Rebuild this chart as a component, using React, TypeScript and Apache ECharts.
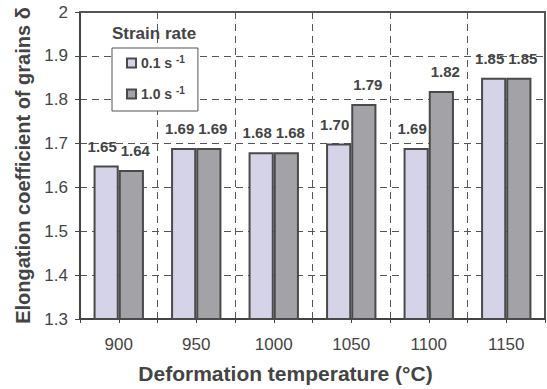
import React, { useEffect, useRef } from "react";
import * as echarts from "echarts";

const categories = ["900", "950", "1000", "1050", "1100", "1150"];
const rate01 = [1.65, 1.69, 1.68, 1.70, 1.69, 1.85];
const rate10 = [1.64, 1.69, 1.68, 1.79, 1.82, 1.85];
const seriesNames = ["0.1 s-1", "1.0 s-1"];
const halfTicks = ["", "", "", "", "", "", "", "", "", "", "", ""];

const FONT = "Liberation Sans, Arial, sans-serif";
const TXT = "#444";

export default function App() {
  const ref = useRef<HTMLDivElement>(null);
  useEffect(() => {
    const chart = echarts.init(ref.current!, null, { renderer: "svg" });
    const mkLabel = (dx: number) => ({
      show: true,
      position: "top" as const,
      distance: 12,
      offset: [dx, 0],
      fontFamily: FONT,
      fontWeight: "bold" as const,
      fontSize: 15,
      color: TXT,
      formatter: (p: any) => p.value.toFixed(2),
    });
    const dash = { color: "#555", width: 1, type: [7, 5] };
    chart.setOption({
      animation: false,
      textStyle: { fontFamily: FONT },
      grid: { left: 80, right: 2, top: 12, bottom: 69 },
      title: {
        text: "Strain rate",
        left: 112,
        top: 25,
        padding: 0,
        textStyle: { fontFamily: FONT, fontSize: 17, fontWeight: "bold", color: TXT },
      },
      legend: {
        orient: "vertical",
        left: 112,
        top: 48,
        padding: [6, 13, 8, 14],
        itemGap: 13,
        itemWidth: 9,
        itemHeight: 9,
        borderColor: "#555",
        borderWidth: 1,
        backgroundColor: "#fff",
        icon: "rect",
        data: seriesNames,
        formatter: (name: string) => {
          const base = name.replace("-1", "");
          return `{a|${base} }{sup|-1}`;
        },
        textStyle: {
          rich: {
            a: { fontFamily: FONT, fontSize: 14, fontWeight: "bold", color: TXT, lineHeight: 18 },
            sup: { fontFamily: FONT, fontSize: 10, fontWeight: "bold", color: TXT, verticalAlign: "top", lineHeight: 18, padding: [0, 0, 8, 0] },
          },
        },
      },
      xAxis: [
        {
          type: "category",
          data: categories,
          name: "Deformation temperature (°C)",
          nameLocation: "middle",
          nameGap: 44,
          nameTextStyle: { fontFamily: FONT, fontSize: 21, fontWeight: "bold", color: TXT, padding: [0, 54, 0, 0] },
          axisLine: { lineStyle: { color: "#444", width: 2 } },
          axisTick: { show: false },
          axisLabel: { fontFamily: FONT, fontSize: 17, color: TXT, margin: 17 },
          splitLine: { show: true, lineStyle: dash },
        },
        {
          type: "category",
          data: halfTicks,
          position: "bottom",
          axisLine: { show: false },
          axisTick: { show: true, length: 4, lineStyle: { color: "#444", width: 1 } },
          axisLabel: { show: false },
          splitLine: { show: false },
        },
        {
          type: "category",
          data: categories,
          position: "top",
          axisLine: { show: true, lineStyle: { color: "#555", width: 2 } },
          axisTick: { show: false },
          axisLabel: { show: false },
          splitLine: { show: false },
        },
      ],
      yAxis: [
        {
          type: "value",
          min: 1.3,
          max: 2,
          interval: 0.1,
          name: "Elongation coefficient of grains δ",
          nameLocation: "middle",
          nameGap: 40,
          nameTextStyle: { fontFamily: FONT, fontSize: 20, fontWeight: "bold", color: TXT },
          axisLine: { show: true, lineStyle: { color: "#444", width: 2 } },
          axisTick: { show: true, length: 5, lineStyle: { color: "#444" } },
          axisLabel: {
            fontFamily: FONT,
            fontSize: 17,
            color: TXT,
            margin: 12,
            formatter: (v: number) => (Math.abs(v - 2) < 1e-9 ? "2" : v.toFixed(1)),
          },
          splitLine: { show: true, lineStyle: dash },
        },
        {
          type: "value",
          min: 1.3,
          max: 2,
          interval: 0.1,
          position: "right",
          axisLine: { show: true, lineStyle: { color: "#555", width: 2 } },
          axisTick: { show: false },
          axisLabel: { show: false },
          splitLine: { show: false },
        },
      ],
      series: [
        {
          name: seriesNames[0],
          type: "bar",
          data: rate01,
          barGap: "0%",
          barCategoryGap: "35%",
          itemStyle: { color: "#d4d3e8", borderColor: "#4a4a4a", borderWidth: 2 },
          label: mkLabel(-4),
        },
        {
          name: seriesNames[1],
          type: "bar",
          data: rate10,
          barGap: "0%",
          barCategoryGap: "35%",
          itemStyle: { color: "#a3a3a7", borderColor: "#4a4a4a", borderWidth: 2 },
          label: mkLabel(4),
        },
      ],
    });
    return () => chart.dispose();
  }, []);
  return <div ref={ref} style={{ width: 547, height: 389, position: "absolute", left: 0, top: 0 }} />;
}
